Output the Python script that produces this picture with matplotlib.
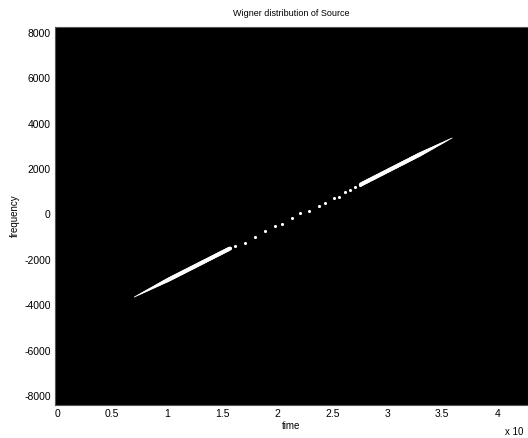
import numpy as np
import matplotlib
matplotlib.use("Agg")
import matplotlib.pyplot as plt
from matplotlib.collections import LineCollection

plt.rcParams['font.family'] = ['Liberation Sans', 'DejaVu Sans']
plt.rcParams['axes.unicode_minus'] = False

# data
solid1_t = [0.70, 1.57]
solid1_f = [-3640, -1500]
dots_t = [1.573, 1.618, 1.709, 1.800, 1.891, 1.982, 2.048, 2.133, 2.209, 2.285,
          2.376, 2.436, 2.512, 2.558, 2.618, 2.664, 2.709, 2.755]
dots_f = [-1490, -1389, -1242, -1006, -727, -492, -433, -169, 51, 154,
          375, 492, 712, 786, 977, 1080, 1197, 1300]
solid2_t = [2.76, 3.59]
solid2_f = [1320, 3372]
xticks = [0, 0.5, 1, 1.5, 2, 2.5, 3, 3.5, 4]
yticks = [-8000, -6000, -4000, -2000, 0, 2000, 4000, 6000, 8000]

fig = plt.figure(figsize=(5.28, 4.38), dpi=100)
ax = fig.add_axes([55/528, 33/438, 473/528, 378/438])
ax.set_facecolor('black')


def tapered(ts, fs, start_taper, end_taper, wmax=2.9):
    n = 60
    tt = np.linspace(ts[0], ts[1], n)
    ff = np.linspace(fs[0], fs[1], n)
    pts = np.column_stack([tt, ff]).reshape(-1, 1, 2)
    segs = np.concatenate([pts[:-1], pts[1:]], axis=1)
    u = np.linspace(0, 1, n - 1)
    w = np.ones_like(u) * wmax
    if start_taper:
        w *= np.clip(0.2 + u / 0.45, 0, 1)
    if end_taper:
        w *= np.clip(0.2 + (1 - u) / 0.45, 0, 1)
    lc = LineCollection(segs, linewidths=w, colors='white', capstyle='round')
    ax.add_collection(lc)


tapered(solid1_t, solid1_f, True, False)
tapered(solid2_t, solid2_f, False, True)
ax.scatter(dots_t, dots_f, s=5, color='white', marker='o', linewidths=0)

ax.set_xlim(-0.02, 4.28)
ax.set_ylim(-8397, 8264)
ax.set_xticks(xticks)
ax.set_xticklabels(['0', '0.5', '1', '1.5', '2', '2.5', '3', '3.5', '4'])
ax.set_yticks(yticks)
ax.set_yticklabels([str(v) for v in yticks])
ax.tick_params(direction='in', length=4, color='black', labelsize=7.5, pad=3)
for s in ax.spines.values():
    s.set_color('#555555')
    s.set_linewidth(0.8)

ax.set_title('Wigner distribution of Source', fontsize=6.5, pad=8)
ax.set_xlabel('time', fontsize=7, labelpad=1)
ax.set_ylabel('frequency', fontsize=7, labelpad=3)
fig.text(505/528, 1 - 432/438, 'x 10', fontsize=7, va='center', ha='left')

fig.savefig('out.png', dpi=100, facecolor='white')
